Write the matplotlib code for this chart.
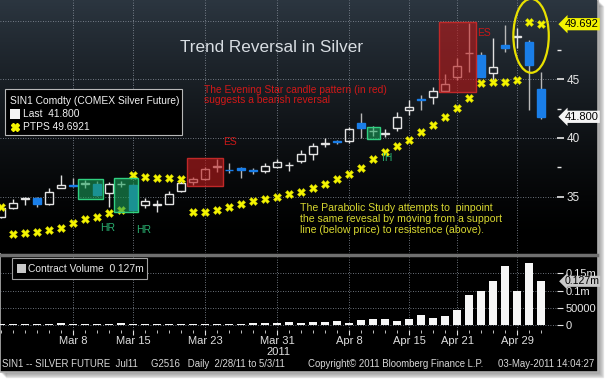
import numpy as np
import matplotlib
matplotlib.use('Agg')
import matplotlib.pyplot as plt
from matplotlib.patches import Rectangle, Ellipse
from matplotlib.transforms import blended_transform_factory

plt.rcParams['font.family'] = ['Liberation Sans', 'DejaVu Sans']

# daily OHLC, 2/28/11 .. 5/3/11 (46 trading days)
opens = [33.3, 34.0, 34.8, 34.86, 34.35, 35.72, 36.0, 36.1, 36.06, 35.3,
         36.05, 36.0, 34.3, 34.3, 34.4, 35.45, 36.25, 36.5, 37.55, 37.3,
         37.4, 37.25, 37.15, 37.56, 37.68, 38.0, 38.65, 39.5, 39.7, 39.7,
         41.25, 40.6, 40.35, 40.85, 42.35, 43.3, 43.47, 44.0, 45.22, 47.2,
         47.07, 45.5, 47.92, 48.6, 48.2, 44.15]
highs = [34.1, 34.8, 35.0, 35.0, 35.72, 36.85, 36.55, 36.4, 36.3, 36.25,
         36.3, 36.1, 34.9, 34.7, 35.5, 36.3, 36.7, 37.5, 38.2, 37.9,
         37.55, 37.45, 37.9, 38.2, 37.98, 39.0, 39.55, 40.0, 39.8, 40.9,
         42.1, 41.0, 40.75, 42.25, 43.25, 43.65, 44.3, 45.45, 46.8, 49.77,
         47.3, 48.5, 49.6, 49.35, 48.35, 45.65]
lows = [33.2, 33.95, 34.3, 34.15, 34.3, 35.7, 35.8, 35.75, 35.05, 34.15,
        35.8, 33.8, 34.05, 33.7, 34.35, 35.4, 36.0, 36.4, 37.1, 37.05,
        36.6, 36.9, 37.05, 37.4, 37.2, 37.9, 38.15, 39.25, 39.5, 39.55,
        40.0, 40.2, 40.1, 40.55, 41.95, 42.4, 42.9, 43.95, 44.95, 45.65,
        45.2, 44.8, 47.35, 47.65, 42.4, 41.6]
closes = [34.0, 34.5, 34.88, 34.38, 35.37, 36.0, 35.88, 36.15, 35.1, 36.06,
          36.1, 33.9, 34.6, 34.35, 35.2, 36.14, 36.48, 37.33, 37.6, 37.25,
          37.3, 37.2, 37.6, 37.98, 37.72, 38.64, 39.3, 39.55, 39.65, 40.74,
          40.85, 40.62, 40.4, 41.8, 42.67, 43.2, 44.03, 44.57, 46.16, 47.25,
          45.22, 46.07, 47.7, 48.7, 46.22, 41.8]
# parabolic SAR (PTPS)
ptps = [34.15, 31.8, 31.88, 32.02, 32.16, 32.31, 32.73, 33.07, 33.3, 33.59,
        33.87, 36.85, 36.7, 36.62, 36.57, 36.48, 33.72, 33.72, 33.87, 34.15,
        34.35, 34.63, 34.8, 35.0, 35.23, 35.43, 35.72, 36.06, 36.48, 36.91,
        37.47, 38.19, 38.83, 39.32, 39.83, 40.54, 41.11, 41.82, 42.53, 43.38,
        44.66, 44.74, 44.74, 44.94, 49.85, 49.69]
volume = [1500, 2000, 2000, 2000, 2500, 4500, 4000, 2500, 2500, 3500,
          4500, 4000, 3000, 2500, 3500, 2500, 4000, 3500, 3500, 3500,
          3500, 5000, 5500, 5000, 9600, 5000, 9600, 9600, 11600, 6700,
          14500, 16500, 16500, 11600, 18400, 29000, 21300, 26200, 43600, 87200,
          98800, 128800, 171500, 98800, 179400, 127000]

tick_days = [6, 11, 17, 23, 29, 34, 38, 43]
tick_labels = ['Mar 8', 'Mar 15', 'Mar 23', 'Mar 31', 'Apr 8', 'Apr 15', 'Apr 21', 'Apr 29']

W, H = 610, 382
def fx(x):
    return x / W
def fy(y):
    return 1 - y / H

fig = plt.figure(figsize=(6.1, 3.82), dpi=100, facecolor='white')

# drop shadow + black panel
for k in range(1, 7):
    fig.patches.append(Rectangle((fx(k), fy(371 + k)), fx(597), 371 / H,
                                 transform=fig.transFigure, color='#404040',
                                 alpha=0.09, zorder=-3))
fig.patches.append(Rectangle((0, fy(372)), fx(598), 372 / H, transform=fig.transFigure,
                             facecolor='#000000', edgecolor='#b0b0b0', lw=1.2, zorder=-2))

# gradient behind price panel
bg = fig.add_axes([0, fy(253), fx(597), 253 / H])
bg.set_zorder(-1)
t = np.linspace(0, 1, 200)[:, None]
top = np.array([0.17, 0.21, 0.25])
g = np.clip(1 - t / 0.95, 0, 1) ** 1.3
img = (g[..., None] * top[None, None, :]) * np.ones((1, 2, 1))
bg.imshow(img, aspect='auto', extent=[0, 1, 0, 1])
bg.axis('off')

ax = fig.add_axes([0, fy(253), fx(557), 253 / H])
ax.set_zorder(1)
ax.set_facecolor('none')
x = np.arange(len(closes))
ax.set_xlim(-0.08, 46.33)
ax.set_ylim(30.2, 51.75)

bw = 0.72
for i, o, h, l, c in zip(x, opens, highs, lows, closes):
    lo, hi = min(o, c), max(o, c)
    if hi - lo < 0.04:
        lo, hi = (o + c) / 2 - 0.02, (o + c) / 2 + 0.02
    if c < o:
        ax.vlines(i, l, h, color='#b8b8b8', lw=1, zorder=3)
        ax.add_patch(Rectangle((i - bw / 2, lo), bw, hi - lo, facecolor='#1a7ee8',
                               edgecolor='#1a7ee8', lw=1, zorder=4))
    else:
        ax.vlines(i, hi, h, color='#e0e0e0', lw=1, zorder=3)
        ax.vlines(i, l, lo, color='#e0e0e0', lw=1, zorder=3)
        ax.add_patch(Rectangle((i - bw / 2, lo), bw, hi - lo, facecolor='none',
                               edgecolor='#e4e4e4', lw=1, zorder=4))

ax.plot(x, ptps, ls='none', marker='X', ms=5.2, color='#f4f400', mec='#c8c800',
        mew=0.4, zorder=5)

# pattern highlight boxes
red_fc = (0.72, 0.1, 0.1, 0.62)
for x0, y0, x1, y1 in [(15.5, 35.9, 18.5, 38.3), (36.5, 43.9, 39.55, 49.9)]:
    ax.add_patch(Rectangle((x0, y0), x1 - x0, y1 - y0, facecolor=red_fc,
                           edgecolor='#c02828', lw=1, zorder=6))
grn_fc = (0.1, 0.62, 0.35, 0.6)
for x0, y0, x1, y1 in [(6.42, 34.8, 8.5, 36.5), (9.42, 33.7, 11.42, 36.6),
                       (30.5, 39.9, 31.58, 40.96)]:
    ax.add_patch(Rectangle((x0, y0), x1 - x0, y1 - y0, facecolor=grn_fc,
                           edgecolor='#30d080', lw=1, zorder=6))
ax.add_patch(Ellipse((44.17, 48.7), 2.95, 6.3, facecolor='none',
                     edgecolor='#e8e000', lw=1.6, zorder=7))

ax.set_xticks(tick_days)
ax.tick_params(axis='x', length=0, labelbottom=False)
ax.yaxis.tick_right()
ax.set_yticks([35, 40, 45])
ax.set_yticks([37.5, 42.5, 47.5], minor=True)
ax.tick_params(axis='y', which='both', colors='#e8e8e8', labelsize=8.5, pad=2)
ax.tick_params(axis='y', which='major', length=5, width=1.2)
ax.tick_params(axis='y', which='minor', length=3, width=1)
ax.grid(True, color='#9098a4', ls=(0, (1, 2)), lw=0.6)
ax.axhline(50, color='#9098a4', ls=(0, (1, 2)), lw=0.6)
for s in ax.spines.values():
    s.set_visible(False)

tr = blended_transform_factory(ax.transAxes, ax.transData)
ax.text(1.014, ptps[-1], '49.692', transform=tr, fontsize=8, color='black',
        va='center', ha='left',
        bbox=dict(boxstyle='larrow,pad=0.1', fc='#f4f400', ec='none'), zorder=8)
ax.text(1.014, closes[-1], '41.800', transform=tr, fontsize=8, color='black',
        va='center', ha='left',
        bbox=dict(boxstyle='larrow,pad=0.1', fc='#f4f4f4', ec='none'), zorder=8)

# volume panel
vax = fig.add_axes([0, fy(330), fx(557), (330 - 257) / H])
vax.set_zorder(1)
vax.set_facecolor('none')
vax.bar(x, volume, width=0.7, color='#f6f6f6', zorder=3)
vax.set_xlim(-0.08, 46.33)
vax.set_ylim(-14500, 197700)
vax.yaxis.tick_right()
vax.set_yticks([0, 50000, 100000, 150000])
vax.set_yticklabels(['0', '50000', '0.1m', '0.15m'])
vax.tick_params(axis='y', colors='#e8e8e8', labelsize=8, length=4, pad=2)
vax.set_xticks(tick_days)
vax.set_xticklabels(tick_labels)
vax.set_xticks(x, minor=True)
vax.tick_params(axis='x', which='major', colors='#e0e0e0', labelsize=8, length=3.5, pad=0.5)
vax.tick_params(axis='x', which='minor', colors='#e0e0e0', length=2.5)
vax.grid(True, color='#9098a4', ls=(0, (1, 2)), lw=0.6)
for s in vax.spines.values():
    s.set_visible(False)
vtr = blended_transform_factory(vax.transAxes, vax.transData)
vax.text(1.014, volume[-1], '0.127m', transform=vtr, fontsize=7.6, color='black',
         va='center', ha='left',
         bbox=dict(boxstyle='larrow,pad=0.05', fc='#c8c8c8', ec='none'), zorder=8)

# panel separator
fig.add_artist(plt.Line2D([0, fx(597)], [fy(254.5), fy(254.5)], color='#707070', lw=2.5))

# texts
fig.text(fx(272), fy(48), 'Trend Reversal in Silver', color='#d8dde2', fontsize=12.3,
         ha='center', va='center')
fig.text(fx(204), fy(95), 'The Evening Star candle pattern (in red)\nsuggests a bearish reversal',
         color='#d01818', fontsize=7.4, ha='left', va='center', linespacing=1.05)
fig.text(fx(300), fy(219), 'The Parabolic Study attempts to  pinpoint\n'
         'the same revesal by moving from a support\nline (below price) to resistence (above).',
         color='#d8d830', fontsize=7.6, ha='left', va='center', linespacing=1.12)
fig.text(fx(230), fy(142), 'ES', color='#c81818', fontsize=7.5, ha='center', va='center')
fig.text(fx(484), fy(33), 'ES', color='#c81818', fontsize=7.5, ha='center', va='center')
fig.text(fx(108), fy(228), 'HR', color='#28b070', fontsize=7.5, ha='center', va='center')
fig.text(fx(144), fy(230), 'HR', color='#28b070', fontsize=7.5, ha='center', va='center')
fig.text(fx(387), fy(158), 'IH', color='#28b070', fontsize=7.5, ha='center', va='center')

# legend boxes
fig.patches.append(Rectangle((fx(5), fy(135)), fx(177), 46 / H, transform=fig.transFigure,
                             facecolor='black', edgecolor='#b8b8b8', lw=0.8, zorder=9))
fig.text(fx(10), fy(101), 'SIN1 Comdty (COMEX Silver Future)', color='#f0f0f0',
         fontsize=7.4, va='center', zorder=10)
fig.patches.append(Rectangle((fx(10), fy(119)), fx(10), 10 / H, transform=fig.transFigure,
                             facecolor='#f4f4f4', zorder=10))
fig.text(fx(23), fy(114), 'Last  41.800', color='#f0f0f0', fontsize=7.4, va='center', zorder=10)
fig.add_artist(plt.Line2D([fx(15)], [fy(127)], marker='X', ms=5.2, color='#f4f400', zorder=10))
fig.text(fx(23), fy(127), 'PTPS 49.6921', color='#f0f0f0', fontsize=7.4, va='center', zorder=10)

fig.patches.append(Rectangle((fx(12), fy(279)), fx(135), 21 / H, transform=fig.transFigure,
                             facecolor='black', edgecolor='#a0a0a0', lw=0.8, zorder=9))
fig.patches.append(Rectangle((fx(17), fy(273)), fx(9), 9 / H, transform=fig.transFigure,
                             facecolor='#c8c8c8', zorder=10))
fig.text(fx(28), fy(268.5), 'Contract Volume  0.127m', color='#e8e8e8', fontsize=7.4,
         va='center', zorder=10)

# footer
fig.text(fx(278), fy(352), '2011', color='#e0e0e0', fontsize=8, ha='center', va='center')
fig.text(fx(2), fy(364), 'SIN1 -- SILVER FUTURE  Jul11     G2516   Daily  2/28/11 to 5/3/11',
         color='#d8d8d8', fontsize=6.9, va='center')
fig.text(fx(308), fy(364), 'Copyright\u00a9 2011 Bloomberg Finance L.P.', color='#d8d8d8',
         fontsize=6.9, va='center')
fig.text(fx(594), fy(364), '03-May-2011 14:04:27', color='#d8d8d8', fontsize=6.9,
         va='center', ha='right')

fig.savefig('out.png', dpi=100, facecolor='white')
